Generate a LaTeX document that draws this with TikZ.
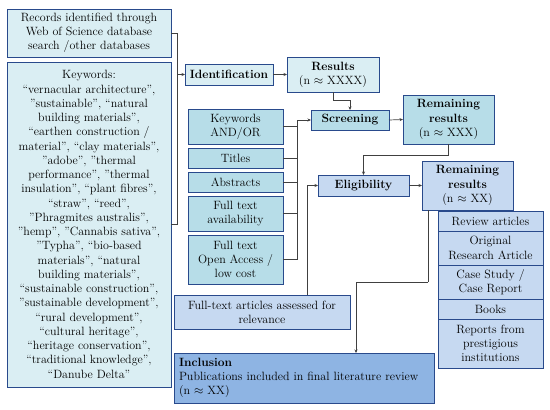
\documentclass[tikz,border=0pt]{standalone}
\usepackage{amsmath}
\usepackage{tikz}
\usetikzlibrary{arrows.meta}

\definecolor{bdr}{RGB}{41,74,140}
\definecolor{lightfill}{RGB}{218,238,243}
\definecolor{tealfill}{RGB}{183,221,232}
\definecolor{lavfill}{RGB}{198,217,241}
\definecolor{inclfill}{RGB}{142,180,227}
\definecolor{wire}{RGB}{64,64,64}

\begin{document}
\begin{tikzpicture}[x=1pt, y=-1pt,
    box/.style={draw=bdr, line width=0.9pt, align=center, inner sep=0pt, outer sep=0pt,
        font=\fontsize{12}{14.25}\selectfont},
    arr/.style={-{Stealth[length=3.5pt, width=3pt]}, wire, line width=0.7pt},
    wireline/.style={wire, line width=0.7pt}]
    \useasboundingbox (0,0) rectangle (550,410);
    % sources
    \node[box, fill=lightfill, minimum width=164pt, minimum height=48pt] (rec) at (89,33)
        {Records identified through\\Web of Science database\\search /other databases};
    \node[box, fill=lightfill, minimum width=164pt, minimum height=325pt] (kw) at (89,224.5)
        {Keywords:\\
        “vernacular architecture”,\\
        "sustainable", “natural\\
        building materials”,\\
        “earthen construction /\\
        material”, “clay materials”,\\
        "adobe", "thermal\\
        performance", "thermal\\
        insulation", “plant fibres”,\\
        “straw”, “reed”,\\
        "Phragmites australis",\\
        "hemp", "Cannabis sativa",\\
        "Typha", “bio-based\\
        materials”, “natural\\
        building materials”,\\
        “sustainable construction”,\\
        "sustainable development",\\
        “rural development”,\\
        “cultural heritage”,\\
        “heritage conservation”,\\
        “traditional knowledge”,\\
        “Danube Delta”};
    % main stages
    \node[box, fill=lightfill, minimum width=88pt, minimum height=21pt] (ident) at (229,74.5) {\textbf{Identification}};
    \node[box, fill=lightfill, minimum width=92pt, minimum height=35pt] (res) at (333,74.5) {\textbf{Results}\\(n $\approx$ XXXX)};
    \node[box, fill=tealfill, minimum width=78pt, minimum height=20pt] (scr) at (350,120) {\textbf{Screening}};
    \node[box, fill=tealfill, minimum width=91pt, minimum height=49pt] (rem1) at (448.5,119.5) {\textbf{Remaining}\\\textbf{results}\\(n $\approx$ XXX)};
    \node[box, fill=lavfill, minimum width=91pt, minimum height=21pt] (elig) at (363.5,185.5) {\textbf{Eligibility}};
    \node[box, fill=lavfill, minimum width=91pt, minimum height=49pt] (rem2) at (467.5,185.5) {\textbf{Remaining}\\\textbf{results}\\(n $\approx$ XX)};
    % screening criteria
    \node[box, fill=tealfill, minimum width=95pt, minimum height=35pt] (crit1) at (235.5,126.5) {Keywords\\AND/OR};
    \node[box, fill=tealfill, minimum width=95pt, minimum height=20pt] (crit2) at (235.5,158) {Titles};
    \node[box, fill=tealfill, minimum width=95pt, minimum height=20pt] (crit3) at (235.5,182) {Abstracts};
    \node[box, fill=tealfill, minimum width=95pt, minimum height=35pt] (crit4) at (235.5,213.5) {Full text\\availability};
    \node[box, fill=tealfill, minimum width=95pt, minimum height=49pt] (crit5) at (235.5,259.5) {Full text\\Open Access /\\low cost};
    \node[box, fill=lavfill, minimum width=176pt, minimum height=34pt] (fta) at (262,312) {Full-text articles assessed for\\relevance};
    % types
    \node[box, fill=lavfill, minimum width=105pt, minimum height=20pt] (type1) at (490.5,221) {Review articles};
    \node[box, fill=lavfill, minimum width=105pt, minimum height=34pt] (type2) at (490.5,248) {Original\\Research Article};
    \node[box, fill=lavfill, minimum width=105pt, minimum height=34pt] (type3) at (490.5,282) {Case Study /\\Case Report};
    \node[box, fill=lavfill, minimum width=105pt, minimum height=20pt] (type4) at (490.5,309) {Books};
    \node[box, fill=lavfill, minimum width=105pt, minimum height=49pt] (type5) at (490.5,343.5) {Reports from\\prestigious\\institutions};
    \node[box, fill=inclfill, minimum width=260pt, minimum height=50pt, align=left, text width=250pt] (incl) at (304,378)
        {\textbf{Inclusion}\\Publications included in final literature review\\(n $\approx$ XX)};
    % connectors
    \coordinate (join) at (177,74.5);
    \coordinate (bus) at (297,120);
    \coordinate (bend) at (428,282);
    \draw[wireline] (rec.east) -| (join);
    \draw[wireline] (kw.east) -| (join);
    \draw[arr] (join) -- (ident.west);
    \draw[arr] (ident.east) -- (res.west);
    \draw[arr] (res.south) -- ++(0,8) -| (scr.north);
    \draw[arr] (scr.east) -- (rem1.west);
    \draw[arr] (rem1.south) -- ++(0,11) -| (elig.north);
    \draw[arr] (elig.east) -- (rem2.west);
    \foreach \c in {crit1,crit2,crit3,crit4,crit5}
        \draw[wireline] (\c.east) -| (bus);
    \draw[arr] (bus) -- (scr.west);
    \draw[arr] ([xshift=45pt]fta.north) |- (elig.west);
    \draw[wireline] ([xshift=-39.5pt]rem2.south) -- (bend);
    \draw[arr] (bend) -| ([xshift=52pt]incl.north);
\end{tikzpicture}
\end{document}
